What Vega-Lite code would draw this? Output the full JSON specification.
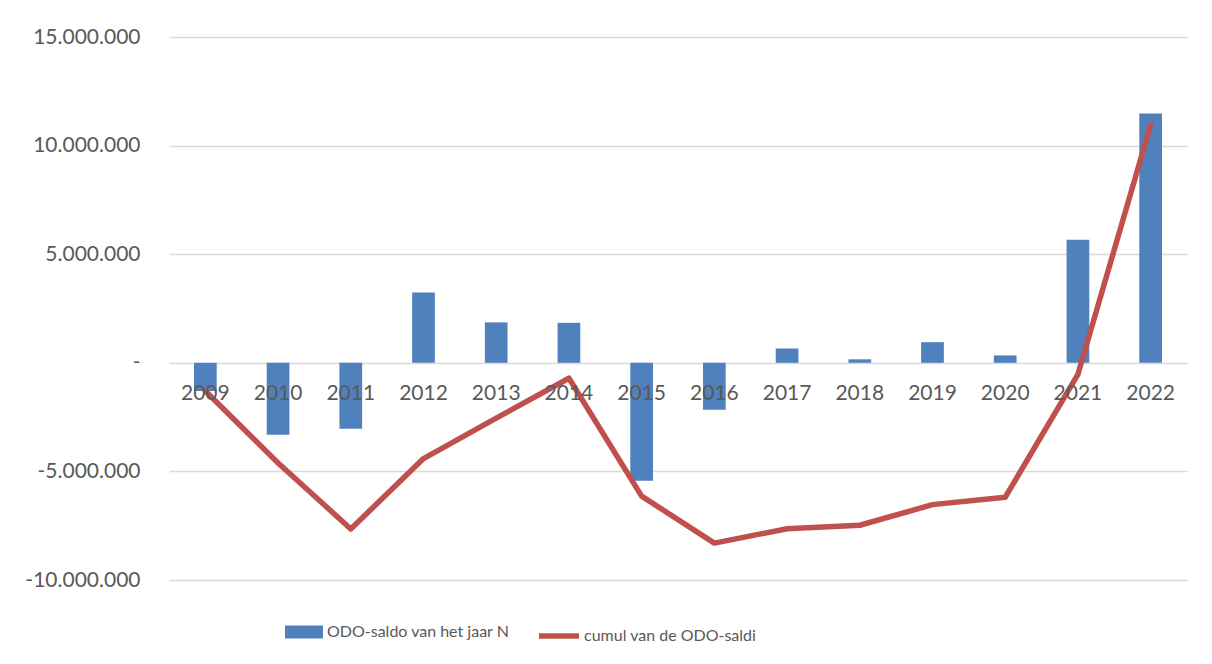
{
  "$schema": "https://vega.github.io/schema/vega-lite/v6.json",
  "width": 1018,
  "height": 543,
  "autosize": {"type": "none"},
  "padding": {"left": 169, "top": 37, "right": 25, "bottom": 84},
  "background": "white",
  "config": {
    "view": {"stroke": null},
    "font": "Lato",
    "locale": {"number": {"decimal": ",", "thousands": ".", "grouping": [3], "currency": ["€", ""], "minus": "-"}}
  },
  "data": {
    "values": [
      {"jaar": "2009", "saldo": -1300000, "cumul": -1300000},
      {"jaar": "2010", "saldo": -3310000, "cumul": -4610000},
      {"jaar": "2011", "saldo": -3040000, "cumul": -7650000},
      {"jaar": "2012", "saldo": 3240000, "cumul": -4410000},
      {"jaar": "2013", "saldo": 1860000, "cumul": -2550000},
      {"jaar": "2014", "saldo": 1840000, "cumul": -710000},
      {"jaar": "2015", "saldo": -5430000, "cumul": -6140000},
      {"jaar": "2016", "saldo": -2160000, "cumul": -8300000},
      {"jaar": "2017", "saldo": 660000, "cumul": -7640000},
      {"jaar": "2018", "saldo": 160000, "cumul": -7480000},
      {"jaar": "2019", "saldo": 950000, "cumul": -6530000},
      {"jaar": "2020", "saldo": 340000, "cumul": -6190000},
      {"jaar": "2021", "saldo": 5660000, "cumul": -530000},
      {"jaar": "2022", "saldo": 11480000, "cumul": 10950000}
    ]
  },
  "encoding": {
    "x": {
      "field": "jaar",
      "type": "ordinal",
      "scale": {"paddingInner": 0.688, "paddingOuter": 0.344},
      "axis": {
        "title": null,
        "orient": "bottom",
        "offset": -217.2,
        "zindex": 1,
        "labelAngle": 0,
        "domain": false,
        "ticks": false,
        "grid": false,
        "labelFontSize": 21,
        "labelColor": "#595959",
        "labelPadding": 20
      }
    }
  },
  "layer": [
    {
      "mark": {"type": "bar"},
      "encoding": {
        "y": {
          "field": "saldo",
          "type": "quantitative",
          "scale": {"domain": [-10000000, 15000000], "nice": false},
          "axis": {
            "title": null,
            "values": [-10000000, -5000000, 0, 5000000, 10000000, 15000000],
            "format": ",d",
            "labelExpr": "datum.value == 0 ? '-\u00a0\u00a0\u00a0' : datum.label",
            "domain": false,
            "ticks": false,
            "grid": true,
            "gridColor": "#D9D9D9",
            "gridWidth": 1.3,
            "labelFontSize": 21,
            "labelColor": "#595959",
            "labelPadding": 29
          }
        },
        "fill": {
          "datum": "ODO-saldo van het jaar N",
          "scale": {"range": ["#4F81BD"]},
          "legend": {
            "title": null,
            "orient": "none",
            "legendX": 116,
            "legendY": 576,
            "padding": 0,
            "symbolType": "M-1,-0.34H1V0.34H-1Z",
            "symbolSize": 1444,
            "symbolStrokeWidth": 0,
            "labelFontSize": 16,
            "labelLimit": 0,
            "labelColor": "#595959",
            "labelOffset": 4
          }
        }
      }
    },
    {
      "mark": {"type": "line", "strokeWidth": 5.5, "strokeJoin": "round", "strokeCap": "round"},
      "encoding": {
        "y": {"field": "cumul", "type": "quantitative"},
        "stroke": {
          "datum": "cumul van de ODO-saldi",
          "scale": {"range": ["#C0504D"]},
          "legend": {
            "title": null,
            "orient": "none",
            "legendX": 367,
            "legendY": 576,
            "padding": 0,
            "symbolType": "stroke",
            "symbolSize": 1600,
            "symbolStrokeWidth": 5.5,
            "labelFontSize": 16,
            "labelLimit": 0,
            "labelColor": "#595959",
            "labelOffset": 2
          }
        }
      }
    }
  ]
}
